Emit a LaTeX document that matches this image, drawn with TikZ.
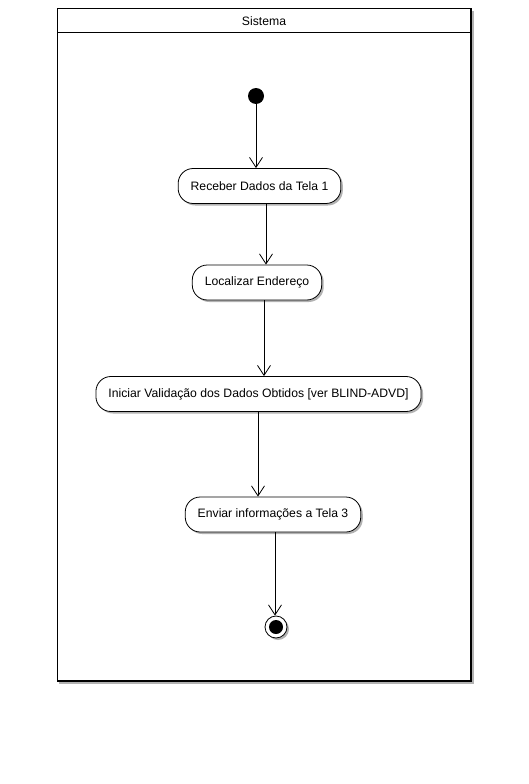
\documentclass[tikz,border=0pt]{standalone}
\usepackage{fontspec}
\setmainfont{Liberation Sans}
\usetikzlibrary{arrows.meta,shadows}
\begin{document}
\begin{tikzpicture}[x=1pt,y=-1pt,
  label font/.style={font=\fontsize{12.2}{14}\selectfont},
  softshadow/.style={drop shadow={shadow xshift=2pt, shadow yshift=-2pt, fill=black!30, opacity=1}},
  action/.style={draw=black, fill=white, line width=0.8pt, rounded corners=15pt,
    minimum height=35pt, inner xsep=12.5pt, label font, softshadow},
  flow/.style={-{Straight Barb[length=10pt, width=13pt]}, line width=0.8pt},
  ]
\useasboundingbox (0,0) rectangle (528,784);

% swimlane frame with its title compartment
\fill[black!30] (59,11) rectangle (473.5,683.5);
\draw[fill=white, line width=1pt] (57,9) rectangle (471,681);
\draw[line width=1.6pt] (471,9) -- (471,681) -- (57,681);
\draw[line width=1pt] (57,33) -- (471,33);
\node[label font] (title) at (264,21) {Sistema};

% start and end points
\node[circle, fill=black, minimum size=16pt, inner sep=0pt] (start) at (256,96) {};
\node[circle, draw=black, fill=white, line width=0.8pt, minimum size=22pt, inner sep=0pt, softshadow] (stop) at (276,627) {};
\node[circle, fill=black, minimum size=14pt, inner sep=0pt] (stopdot) at (stop) {};

% actions
\node[action] (b1) at (259.5,186) {Receber Dados da Tela 1};
\node[action] (b2) at (257,282.5) {Localizar Endereço};
\node[action] (b3) at (258.5,394) {Iniciar Validação dos Dados Obtidos [ver BLIND-ADVD]};
\node[action] (b4) at (273,514.5) {Enviar informações a Tela 3};

% vertical tracks of the control flows
\coordinate (x2) at (266,0);
\coordinate (x3) at (264,0);
\coordinate (x4) at (258,0);
\coordinate (x5) at (275,0);

\draw[flow] (start.south) -- (b1.north -| start);
\draw[flow] (b1.south -| x2) -- (b2.north -| x2);
\draw[flow] (b2.south -| x3) -- (b3.north -| x3);
\draw[flow] (b3.south -| x4) -- (b4.north -| x4);
\draw[flow] (b4.south -| x5) -- (stop.north -| x5);
\end{tikzpicture}
\end{document}
